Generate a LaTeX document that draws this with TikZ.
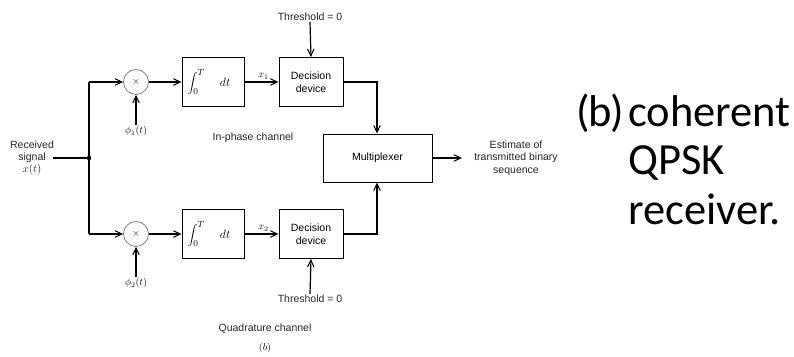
\documentclass[tikz,border=0pt]{standalone}
\usepackage{fontspec}
\newfontfamily\diagfont{Liberation Sans}
\newfontfamily\bigfont{Carlito}
\usetikzlibrary{arrows.meta,calc}
\tikzset{
  lbl/.style={font=\diagfont\fontsize{10.5}{12.5}\selectfont, inner sep=1pt, align=center, text=black!85},
  blk/.style={draw, line width=0.9pt, minimum width=62pt, minimum height=49pt, inner sep=0pt, font=\diagfont\fontsize{10.5}{12.5}\selectfont, align=center},
  mixer/.style={draw=black!55, line width=0.7pt, circle, minimum size=25pt, inner sep=0pt},
  conn/.style={line width=1.2pt, -{Straight Barb[length=7pt,width=6.5pt,line width=1pt]}},
  wire/.style={line width=1.2pt},
  mlbl/.style={inner sep=1pt, font=\fontsize{10}{12}\selectfont},
  bigtxt/.style={font=\bigfont\fontsize{44.5}{50}\selectfont, inner sep=0pt}
}
\begin{document}
\begin{tikzpicture}[x=1pt,y=-1pt]
\useasboundingbox (0,0) rectangle (794,356);
% input
\node[lbl] (rx) at (32,158) {Received\\signal\\[-1pt]$x(t)$};
\coordinate (rxend) at (53,158);
\coordinate (j) at (89,158);
\coordinate (jt) at (89,82);
\coordinate (jb) at (89,234);
\fill (j) circle (2.3pt);
% top branch
\node[mixer] (mul1) at (136,82) {$\times$};
\node[blk, minimum width=62pt] (int1) at (213,82) {};
\node[blk, minimum width=64pt] (dec1) at (311,82) {Decision\\device};
\node[mlbl] (phi1) at (136,131) {$\phi_1(t)$};
\node[lbl] (th1) at (310,17) {Threshold = 0};
\node[lbl] (inph) at (253,138) {In-phase channel};
% bottom branch
\node[mixer] (mul2) at (136,234) {$\times$};
\node[blk, minimum width=62pt] (int2) at (213,234) {};
\node[blk, minimum width=64pt] (dec2) at (311,234) {Decision\\device};
\node[mlbl] (phi2) at (136,283) {$\phi_2(t)$};
\node[lbl] (th2) at (310,299) {Threshold = 0};
\node[lbl] (quad) at (265,329) {Quadrature channel};
\node[mlbl] (bcap) at (265,348) {$(b)$};
% integrator contents
\node[inner sep=0pt, font=\fontsize{13}{15}\selectfont] (intx1) at (209,82) {$\displaystyle\int_0^{T}\quad dt$};
\node[inner sep=0pt, font=\fontsize{13}{15}\selectfont] (intx2) at (209,234) {$\displaystyle\int_0^{T}\quad dt$};
% multiplexer
\node[blk, minimum width=109pt, minimum height=48pt] (mux) at (377.5,158) {Multiplexer};
\coordinate (outEnd) at (462,158);
\node[lbl] (est) at (516,158) {Estimate of\\transmitted binary\\sequence};
\coordinate (c1) at (377,82);
\coordinate (c2) at (377,234);
% connectors
\draw[wire] (rxend) -- (j);
\draw[wire] (jt) -- (jb);
\draw[conn] (jt) -- (mul1.west);
\draw[conn] (jb) -- (mul2.west);
\draw[conn] (mul1.east) -- (int1.west);
\draw[conn] (mul2.east) -- (int2.west);
\draw[conn] (int1.east) -- node[above, mlbl, yshift=1pt, xshift=2pt] {$x_1$} (dec1.west);
\draw[conn] (int2.east) -- node[above, mlbl, yshift=1pt, xshift=2pt] {$x_2$} (dec2.west);
\draw[conn] (phi1.north) -- (mul1.south);
\draw[conn] (phi2.north) -- (mul2.south);
\draw[conn] (th1.south) -- (dec1.north);
\draw[conn] (th2.north) -- (dec2.south);
\draw[conn] (dec1.east) -- (c1) -- (mux.north -| c1);
\draw[conn] (dec2.east) -- (c2) -- (mux.south -| c2);
\draw[conn] (mux.east) -- (outEnd);
% right caption
\node[bigtxt, anchor=base east] (cb) at (624,126) {(\kern-1.5pt b\kern-1.5pt)};
\node[bigtxt, anchor=base west] (cl1) at (628,126) {coherent};
\node[bigtxt, anchor=base west] (cl2) at (628,174) {QPSK};
\node[bigtxt, anchor=base west] (cl3) at (628,224) {receiver.};
\end{tikzpicture}
\end{document}
